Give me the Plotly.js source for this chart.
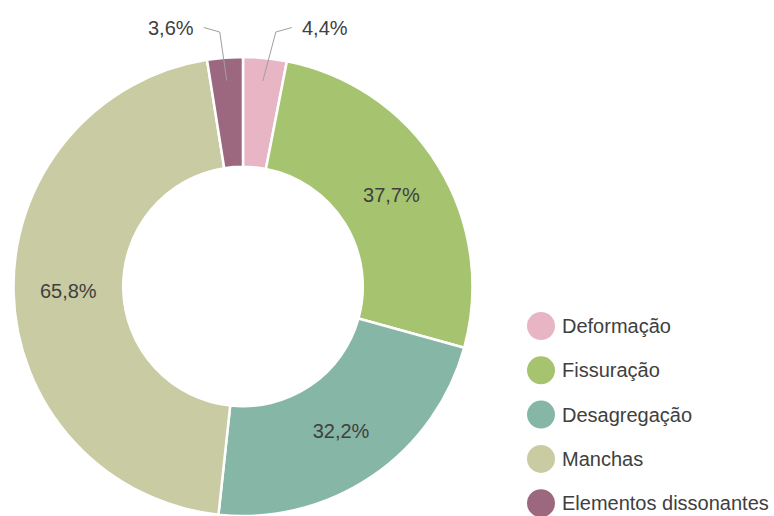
<!DOCTYPE html>
<html>
<head>
<meta charset="utf-8">
<script src="https://cdn.plot.ly/plotly-3.0.1.min.js"></script>
<style>html,body{margin:0;padding:0;background:#fff;}#chart{width:774px;height:516px;}</style>
</head>
<body>
<div id="chart"></div>
<script>
const categories = ['Deformação', 'Fissuração', 'Desagregação', 'Manchas', 'Elementos dissonantes'];
const values = [4.4, 37.7, 32.2, 65.8, 3.6];
const colors = ['#e8b5c4', '#a6c470', '#86b6a6', '#c9cba3', '#9c6880'];
const outsideLabels = [true, false, false, false, true];

const W = 774, H = 516;
const M = {l: 0, r: 0, t: 57, b: 0};
const domX = [13 / W, 473 / W];
const cx = 243, cy = M.t + (H - M.t) / 2, R = (H - M.t) / 2;
const px2x = p => p / W;
const px2y = p => (H - p) / (H - M.t - M.b);

const fmt = v => v.toFixed(1).replace('.', ',') + '%';

// leader line styling (pixel offsets): elbow horizontal offset, horizontal run, text gap
const elbowDx = [13, 0, 0, 0, 7];
const total = values.reduce((a, b) => a + b, 0);
const annotations = [];
const shapes = [];
let cum = 0;
values.forEach((v, i) => {
  const mid = (cum + v / 2) / total * 2 * Math.PI;
  cum += v;
  if (!outsideLabels[i]) return;
  const side = Math.sin(mid) >= 0 ? 1 : -1;
  const ax = cx + 0.9 * R * Math.sin(mid);
  const ay = cy - 0.9 * R * Math.cos(mid);
  const ex = ax + side * elbowDx[i];
  const ey = 32;
  const tx = ex + side * 16;
  const ty = 27.5;
  shapes.push({
    type: 'path', xref: 'paper', yref: 'paper',
    path: `M ${px2x(ax)} ${px2y(ay)} L ${px2x(ex)} ${px2y(ey)} L ${px2x(tx)} ${px2y(ty)}`,
    line: {color: '#a0a0a0', width: 1}
  });
  annotations.push({
    xref: 'paper', yref: 'paper', x: px2x(tx + side * 8), y: px2y(ty),
    xanchor: side > 0 ? 'left' : 'right', yanchor: 'middle',
    text: fmt(v), showarrow: false,
    font: {size: 20, color: '#404040'}
  });
});

categories.forEach((c, i) => {
  const yp = 326 + i * 44.3;
  shapes.push({
    type: 'circle', xref: 'paper', yref: 'paper',
    xsizemode: 'pixel', ysizemode: 'pixel',
    xanchor: px2x(541), yanchor: px2y(yp),
    x0: -14, x1: 14, y0: -14, y1: 14,
    fillcolor: colors[i], line: {width: 0}
  });
  annotations.push({
    xref: 'paper', yref: 'paper', x: px2x(560), y: px2y(yp),
    xanchor: 'left', yanchor: 'middle', text: c, showarrow: false,
    font: {size: 20, color: '#404040'}
  });
});

const trace = {
  type: 'pie',
  labels: categories,
  values: values,
  sort: false,
  direction: 'clockwise',
  rotation: 0,
  hole: 0.522,
  domain: {x: domX, y: [0, 1]},
  marker: {colors: colors, line: {color: '#ffffff', width: 2.5}},
  texttemplate: '%{value:.1f}%',
  textposition: outsideLabels.map(o => o ? 'none' : 'inside'),
  insidetextorientation: 'horizontal',
  textfont: {size: 20, color: '#404040'},
  hoverinfo: 'label+value',
  showlegend: false
};

const layout = {
  width: W, height: H,
  margin: M,
  separators: ',.',
  showlegend: false,
  paper_bgcolor: '#ffffff',
  font: {family: 'Liberation Sans, Arial, sans-serif', color: '#404040'},
  shapes: shapes,
  annotations: annotations
};

Plotly.newPlot('chart', [trace], layout, {displayModeBar: false, staticPlot: true});
</script>
</body>
</html>
